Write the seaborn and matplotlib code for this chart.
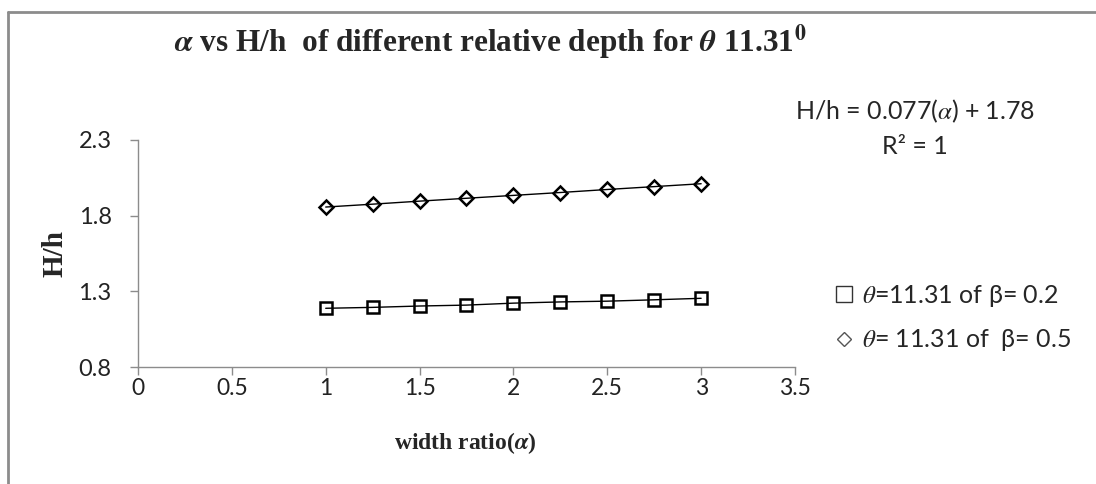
import matplotlib
matplotlib.use("Agg")
import matplotlib.pyplot as plt
from matplotlib.lines import Line2D
import seaborn as sns
import pandas as pd

# width ratio (alpha) and relative height H/h for two relative depths (beta)
alpha = [1.0, 1.25, 1.5, 1.75, 2.0, 2.25, 2.5, 2.75, 3.0]
hh_beta_02 = [1.188, 1.194, 1.203, 1.209, 1.222, 1.230, 1.235, 1.244, 1.254]
hh_beta_05 = [1.857, 1.876, 1.896, 1.915, 1.934, 1.953, 1.973, 1.992, 2.011]
series_labels = [r"$\theta$=11.31 of β= 0.2", r"$\theta$= 11.31 of  β= 0.5"]
x_ticks = [0, 0.5, 1, 1.5, 2, 2.5, 3, 3.5]
y_ticks = [0.8, 1.3, 1.8, 2.3]

df = pd.DataFrame({
    "alpha": alpha * 2,
    "hh": hh_beta_02 + hh_beta_05,
    "series": [series_labels[0]] * len(alpha) + [series_labels[1]] * len(alpha),
})

sns.set_theme(style="white")
plt.rcParams["font.family"] = ["Lato", "DejaVu Sans"]
plt.rcParams["mathtext.fontset"] = "stix"

W, H = 1096, 484
fig = plt.figure(figsize=(W / 100, H / 100), dpi=100)
ax = fig.add_axes([138 / W, 1 - 367 / H, (795 - 138) / W, (367 - 140) / H])

sns.lineplot(
    data=df, x="alpha", y="hh", hue="series", style="series",
    markers={series_labels[0]: "s", series_labels[1]: "D"},
    dashes=False, palette=["black", "black"], linewidth=1.0,
    markerfacecolor="none", markeredgecolor="black",
    markeredgewidth=1.8, legend=False, ax=ax,
)
for line, ms in zip(ax.lines, [9, 7.5]):
    line.set_markersize(ms)

ax.set_xlim(0, 3.5)
ax.set_ylim(0.8, 2.3)
ax.set_xticks(x_ticks)
ax.set_xticklabels([f"{t:g}" for t in x_ticks], fontsize=16.5)
ax.set_yticks(y_ticks)
ax.set_yticklabels([f"{t:g}" for t in y_ticks], fontsize=17)
ax.tick_params(axis="both", which="both", direction="out", length=6, width=1, color="#8c8c8c",
               left=True, bottom=True, labelcolor="#222222")
ax.tick_params(axis="y", pad=13)
ax.tick_params(axis="x", pad=2)

for side in ["top", "right"]:
    ax.spines[side].set_visible(False)
for side in ["left", "bottom"]:
    ax.spines[side].set_color("#8c8c8c")
    ax.spines[side].set_linewidth(1.0)

ax.set_xlabel(r"width ratio($\boldsymbol{\alpha}$)", family="Liberation Serif", fontweight="bold",
              fontsize=17)
ax.xaxis.set_label_coords((465 - 138) / (795 - 138), -(443 - 367) / (367 - 140))
ax.xaxis.label.set_va("center")
ax.set_ylabel("H/h", family="Liberation Serif", fontweight="bold", fontsize=21)
ax.yaxis.set_label_coords(-(138 - 55) / (795 - 138), 0.5)
ax.yaxis.label.set_va("center")

fig.text(490 / W, 1 - 42 / H,
         r"$\boldsymbol{\alpha}$ vs H/h  of different relative depth for $\boldsymbol{\theta}$ 11.31$^{\mathbf{0}}$",
         ha="center", va="center", family="Liberation Serif", fontweight="bold", fontsize=22.5)

# trendline equation for the upper series
fig.text(915 / W, 1 - 111 / H, r"H/h = 0.077($\alpha$) + 1.78", ha="center", va="center", fontsize=18)
fig.text(915 / W, 1 - 146 / H, r"R² = 1", ha="center", va="center", fontsize=18)

handles = [
    Line2D([], [], linestyle="none", marker="s", markersize=11, markerfacecolor="none",
           markeredgecolor="#333333", markeredgewidth=1.0),
    Line2D([], [], linestyle="none", marker="D", markersize=7.5, markerfacecolor="none",
           markeredgecolor="#555555", markeredgewidth=1.0),
]
fig.legend(handles, series_labels, loc="center left", bbox_to_anchor=(834 / W, 1 - 318 / H),
           frameon=False, fontsize=18, handlelength=0.8, handletextpad=0.3, labelspacing=0.75,
           borderpad=0, borderaxespad=0)

# outer chart border (left and top edges)
fig.add_artist(Line2D([8 / W, 8 / W], [0.0, 1 - 12 / H], transform=fig.transFigure, color="#8c8c8c", linewidth=2))
fig.add_artist(Line2D([8 / W, 1.0], [1 - 12 / H, 1 - 12 / H], transform=fig.transFigure, color="#8c8c8c", linewidth=2))

fig.savefig("out.png", dpi=100, facecolor="white")
